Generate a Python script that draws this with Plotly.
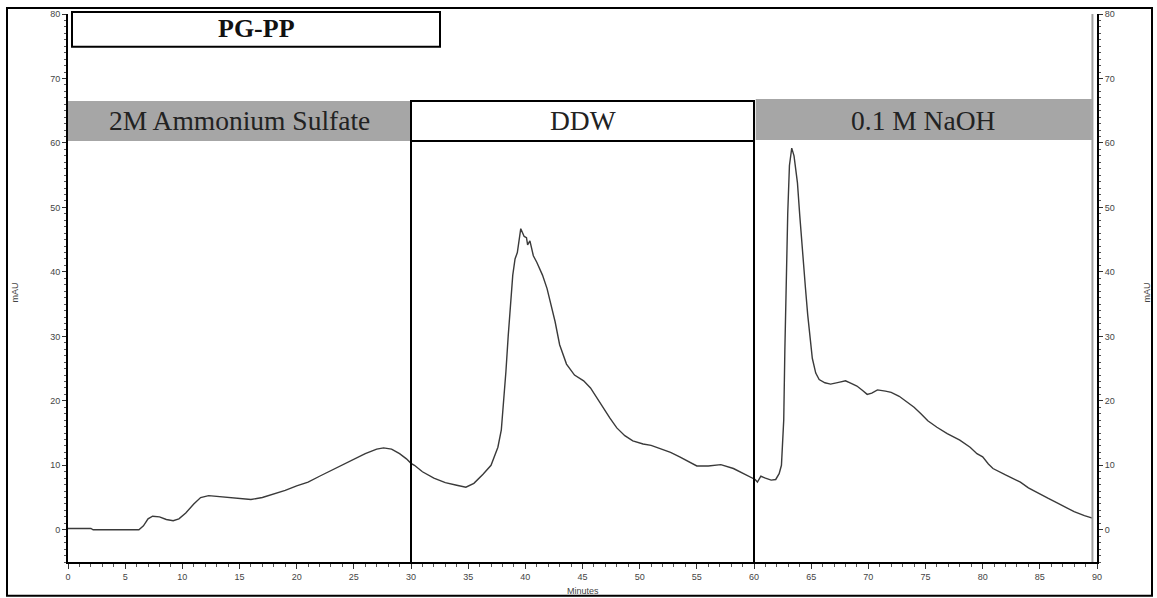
import plotly.graph_objects as go

# ---- data ----
minutes = [0, 1, 2, 2.2, 4, 6.2, 6.6, 7.0, 7.4, 8.0, 8.6, 9.2, 9.7, 10.3, 11.0, 11.6, 12.3,
           13.5, 15.0, 16.0, 17.0, 18.0, 19.0, 20.0, 21.0, 22.0, 23.0, 24.0, 25.0, 26.0,
           27.0, 27.6, 28.3, 29.0, 29.6, 30.0, 30.3, 31.0, 32.0, 33.0, 34.0, 34.8, 35.5,
           36.3, 37.0, 37.6, 37.9, 38.1, 38.3, 38.5, 38.7, 38.9, 39.1, 39.3, 39.6, 39.9,
           40.1, 40.2, 40.4, 40.7, 41.0, 41.5, 41.9, 42.3, 42.6, 43.0, 43.6, 44.3, 45.1,
           45.7, 46.3, 46.8, 47.4, 48.0, 48.7, 49.4, 50.3, 51.0, 51.8, 52.7, 53.5, 54.3,
           55.0, 56.0, 57.1, 58.2, 59.0, 59.6, 60.1, 60.3, 60.6, 61.0, 61.5, 61.9, 62.2,
           62.4, 62.6, 62.7, 62.8, 62.95, 63.1, 63.3, 63.5, 63.8, 64.0, 64.2, 64.5, 64.7,
           64.9, 65.1, 65.4, 65.7, 66.2, 66.7, 67.5, 68.0, 68.5, 69.0, 69.5, 69.9, 70.3,
           70.8, 71.5, 72.0, 72.7, 73.4, 74.0, 74.6, 75.2, 76.0, 76.9, 78.0, 78.9, 79.5,
           80.0, 80.5, 80.9, 82.0, 83.3, 84.0, 84.8, 85.7, 86.6, 87.3, 88.0, 88.9, 89.6]
mau = [0.2, 0.2, 0.2, 0.0, 0.0, 0.0, 0.6, 1.7, 2.1, 2.0, 1.6, 1.4, 1.7, 2.6, 4.0, 5.0, 5.3,
       5.1, 4.8, 4.7, 5.0, 5.5, 6.1, 6.8, 7.4, 8.3, 9.2, 10.1, 11.0, 11.8,
       12.5, 12.7, 12.5, 11.8, 11.0, 10.3, 10.0, 9.0, 8.0, 7.3, 6.9, 6.6, 7.2,
       8.6, 10.0, 12.8, 15.5, 19.5, 24.5, 30.0, 35.5, 39.5, 42.0, 43.0, 46.7, 45.5,
       45.3, 44.2, 44.8, 42.5, 41.5, 39.5, 37.4, 34.5, 32.3, 28.7, 25.7, 24.0, 23.1,
       22.0, 20.3, 18.9, 17.3, 15.8, 14.6, 13.8, 13.3, 13.1, 12.6, 12.0, 11.3, 10.5,
       9.9, 9.9, 10.1, 9.5, 8.8, 8.2, 7.8, 7.4, 8.3, 8.0, 7.7, 7.8, 8.7,
       10.0, 17.0, 28.0, 38.0, 49.0, 56.5, 59.2, 58.0, 53.8, 48.8, 43.6, 37.5, 33.3,
       29.5, 26.6, 24.3, 23.3, 22.8, 22.6, 22.9, 23.1, 22.7, 22.3, 21.6, 21.0, 21.2,
       21.7, 21.5, 21.3, 20.7, 19.8, 19.0, 18.0, 16.9, 15.9, 14.9, 13.9, 12.8, 11.8,
       11.3, 10.2, 9.5, 8.5, 7.4, 6.5, 5.7, 4.9, 4.1, 3.4, 2.8, 2.2, 1.8]

x_ticks = [0, 5, 10, 15, 20, 25, 30, 35, 40, 45, 50, 55, 60, 65, 70, 75, 80, 85, 90]
y_ticks = [0, 10, 20, 30, 40, 50, 60, 70, 80]
phase_labels = ["2M Ammonium Sulfate", "DDW", "0.1 M NaOH"]
phase_bounds = [0, 30, 60, 89.6]
title_text = "PG-PP"

# ---- figure ----
W, H = 1157, 598
ML, MR, MT, MB = 68, 60, 9, 36
PW, PH = W - ML - MR, H - MT - MB

def px(xp):
    return (xp - ML) / PW

def py(yp):
    return (H - MB - yp) / PH

tick_font = dict(family="Liberation Sans, Arial, sans-serif", size=9, color="#444")
serif = "Liberation Serif, Times New Roman, serif"

fig = go.Figure()
fig.add_trace(go.Scatter(x=minutes, y=mau, mode="lines",
                         line=dict(color="#3a3a3a", width=1.4),
                         showlegend=False, hoverinfo="x+y"))
# same series mapped on the right-hand axis (invisible) so the mirror axis is drawn
fig.add_trace(go.Scatter(x=minutes, y=mau, mode="lines", yaxis="y2",
                         line=dict(color="rgba(0,0,0,0)", width=0),
                         showlegend=False, hoverinfo="skip"))

axis_common = dict(showgrid=False, zeroline=False, showline=True, linecolor="black",
                   linewidth=2, ticks="outside", tickcolor="#333", tickfont=tick_font)

fig.update_layout(
    width=W, height=H,
    margin=dict(l=ML, r=MR, t=MT, b=MB),
    paper_bgcolor="white", plot_bgcolor="white",
    xaxis=dict(range=[0, 90], tickvals=x_ticks, ticklen=5,
               minor=dict(dtick=1, ticks="outside", ticklen=3, tickcolor="#555"),
               **axis_common),
    yaxis=dict(range=[-5, 80], tickvals=y_ticks, ticklen=4,
               minor=dict(dtick=1, ticks="outside", ticklen=2, tickcolor="#555"),
               **axis_common),
    yaxis2=dict(range=[-5, 80], tickvals=y_ticks, ticklen=4, overlaying="y", side="right",
                minor=dict(dtick=1, ticks="outside", ticklen=2, tickcolor="#555"),
                **axis_common),
)

shapes = []
# outer frame
shapes.append(dict(type="rect", xref="paper", yref="paper",
                   x0=px(7), x1=px(1152), y0=py(596), y1=py(3),
                   line=dict(color="black", width=2), fillcolor="rgba(0,0,0,0)"))
# inner grey right border
shapes.append(dict(type="line", xref="x", yref="paper", x0=phase_bounds[3], x1=phase_bounds[3],
                   y0=0, y1=1, line=dict(color="#a0a0a0", width=2)))
# title box
shapes.append(dict(type="rect", xref="paper", yref="paper",
                   x0=px(72), x1=px(440), y0=py(42), y1=py(7),
                   line=dict(color="black", width=2), fillcolor="white"))
# phase boxes
box_y0, box_y1 = 60.3, 66.5
shapes.append(dict(type="rect", xref="x", yref="y", x0=phase_bounds[0], x1=phase_bounds[1],
                   y0=box_y0, y1=box_y1, line=dict(width=0), fillcolor="#a6a6a6"))
shapes.append(dict(type="rect", xref="x", yref="y", x0=phase_bounds[1], x1=phase_bounds[2],
                   y0=box_y0, y1=box_y1, line=dict(color="black", width=2), fillcolor="white"))
shapes.append(dict(type="rect", xref="x", yref="y", x0=phase_bounds[2] + 0.15, x1=phase_bounds[3],
                   y0=box_y0 + 0.15, y1=box_y1 + 0.3, line=dict(width=0), fillcolor="#a6a6a6"))
# vertical separators
for xb in phase_bounds[1:3]:
    shapes.append(dict(type="line", xref="x", yref="y", x0=xb, x1=xb, y0=-5, y1=box_y0,
                       line=dict(color="black", width=2)))
fig.update_layout(shapes=shapes)

mid = dict(xanchor="center", yanchor="middle", showarrow=False)
ann = []
ann.append(dict(text="<b>" + title_text + "</b>", xref="paper", yref="paper",
                x=px(256), y=py(24), font=dict(family=serif, size=26, color="#111"), **mid))
for i, lab in enumerate(phase_labels):
    xc = (phase_bounds[i] + phase_bounds[i + 1]) / 2
    ann.append(dict(text=lab, xref="x", yref="y", x=xc, y=(box_y0 + box_y1) / 2 + 0.1,
                    font=dict(family=serif, size=27.5, color="#222"), **mid))
ann.append(dict(text="Minutes", xref="paper", yref="paper", x=px(583), y=py(591),
                font=tick_font, **mid))
ann.append(dict(text="mAU", xref="paper", yref="paper", x=px(15), y=py(290),
                textangle=-90, font=tick_font, **mid))
ann.append(dict(text="mAU", xref="paper", yref="paper", x=px(1147), y=py(290),
                textangle=-90, font=tick_font, **mid))
fig.update_layout(annotations=ann)

fig.write_html("out.html")
